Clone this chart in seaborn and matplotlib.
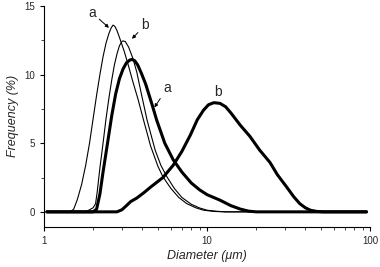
import numpy as np
import pandas as pd
import matplotlib
matplotlib.use("Agg")
import matplotlib.pyplot as plt
import seaborn as sns

# particle size distributions (diameter in um, frequency in %)
thin_a_x = [1.04, 1.45, 1.52, 1.6, 1.7, 1.8, 1.9, 2.0, 2.1, 2.2, 2.3, 2.4, 2.5, 2.58, 2.65, 2.72, 2.8, 2.9, 3.1, 3.3, 3.5, 3.77, 4.05, 4.5, 5.0, 5.36, 6.0, 6.7, 7.5, 8.5, 9.5, 11.0, 13.0, 95.0]
thin_a_y = [0, 0, 0.2, 0.9, 2.0, 3.4, 5.0, 6.8, 8.5, 10.0, 11.3, 12.3, 13.0, 13.4, 13.6, 13.5, 13.2, 12.7, 11.7, 10.6, 9.5, 8.2, 6.8, 4.8, 3.3, 2.55, 1.7, 1.05, 0.6, 0.3, 0.12, 0.03, 0, 0]

thin_b_x = [1.04, 1.8, 1.9, 2.0, 2.07, 2.12, 2.2, 2.3, 2.4, 2.5, 2.6, 2.7, 2.8, 2.9, 3.0, 3.05, 3.15, 3.3, 3.5, 3.7, 3.95, 4.28, 4.8, 5.2, 5.67, 6.3, 7.0, 8.0, 9.0, 10.0, 11.5, 13.0, 95.0]
thin_b_y = [0, 0, 0.15, 0.3, 0.6, 1.5, 3.2, 5.0, 6.8, 8.3, 9.6, 10.7, 11.5, 12.1, 12.4, 12.45, 12.4, 12.0, 11.2, 10.2, 8.6, 6.7, 4.5, 3.4, 2.55, 1.7, 1.05, 0.55, 0.28, 0.12, 0.04, 0, 0]

thick_a_x = [1.04, 2.0, 2.1, 2.2, 2.3, 2.45, 2.6, 2.75, 2.9, 3.05, 3.2, 3.35, 3.46, 3.6, 3.75, 3.95, 4.2, 4.6, 4.9, 5.5, 6.19, 7.0, 8.0, 9.0, 10.0, 12.0, 14.0, 16.0, 18.0, 20.0, 95.0]
thick_a_y = [0, 0, 0.2, 1.3, 2.9, 5.0, 7.0, 8.6, 9.7, 10.4, 10.85, 11.05, 11.1, 11.0, 10.7, 10.1, 9.3, 7.8, 6.7, 5.0, 3.8, 2.9, 2.1, 1.6, 1.25, 0.85, 0.45, 0.2, 0.05, 0, 0]

thick_b_x = [1.04, 2.8, 3.0, 3.2, 3.4, 3.7, 4.1, 4.5, 5.36, 6.2, 7.0, 7.9, 8.7, 9.5, 10.2, 11.0, 12.0, 13.0, 14.0, 16.0, 18.3, 21.0, 24.3, 27.0, 30.8, 34.0, 37.0, 40.0, 43.0, 47.0, 52.0, 95.0]
thick_b_y = [0, 0, 0.15, 0.45, 0.75, 1.0, 1.4, 1.8, 2.5, 3.4, 4.4, 5.6, 6.7, 7.4, 7.8, 7.95, 7.9, 7.65, 7.2, 6.3, 5.5, 4.5, 3.6, 2.7, 1.8, 1.1, 0.6, 0.3, 0.12, 0.03, 0, 0]

sns.set_style("ticks")
plt.rcParams['font.family'] = ['Liberation Sans', 'DejaVu Sans']

fig = plt.figure(figsize=(3.8, 2.67), dpi=100)
ax = fig.add_axes([0.116, 0.15, 0.858, 0.828])

for xs, ys, lw in [(thin_a_x, thin_a_y, 0.8), (thin_b_x, thin_b_y, 0.8),
                   (thick_a_x, thick_a_y, 2.2), (thick_b_x, thick_b_y, 2.2)]:
    sns.lineplot(x=xs, y=ys, ax=ax, color='black', linewidth=lw, sort=False)

ax.set_xscale('log')
ax.set_xlim(1, 100)
ax.set_ylim(-1.1, 15)
ax.set_yticks([0, 5, 10, 15])
ax.set_yticks([2.5, 7.5, 12.5], minor=True)
ax.set_xticks([1, 10, 100])
ax.set_xticklabels(['1', '10', '100'])
ax.tick_params(labelsize=7, length=3, width=0.8, color='black')
ax.tick_params(which='minor', length=2, width=0.6)
sns.despine(ax=ax)
for s in ['left', 'bottom']:
    ax.spines[s].set_linewidth(0.8)
    ax.spines[s].set_color('black')

ax.set_xlabel('Diameter (\u03bcm)', fontsize=9, style='italic', labelpad=3)
ax.set_ylabel('Frequency (%)', fontsize=9, style='italic', labelpad=4)

arrow = dict(arrowstyle='-|>', color='black', lw=0.7, mutation_scale=5, shrinkA=0, shrinkB=0)
ax.annotate('a', xy=(2.5, 13.4), xytext=(1.97, 14.5), fontsize=10, ha='center', va='center', arrowprops=arrow)
ax.annotate('b', xy=(3.46, 12.6), xytext=(4.16, 13.6), fontsize=10, ha='center', va='center', arrowprops=arrow)
ax.annotate('a', xy=(4.75, 7.6), xytext=(5.68, 9.0), fontsize=10, ha='center', va='center', arrowprops=arrow)
ax.text(11.7, 8.74, 'b', fontsize=10, ha='center', va='center')

fig.savefig('out.png', dpi=100)
